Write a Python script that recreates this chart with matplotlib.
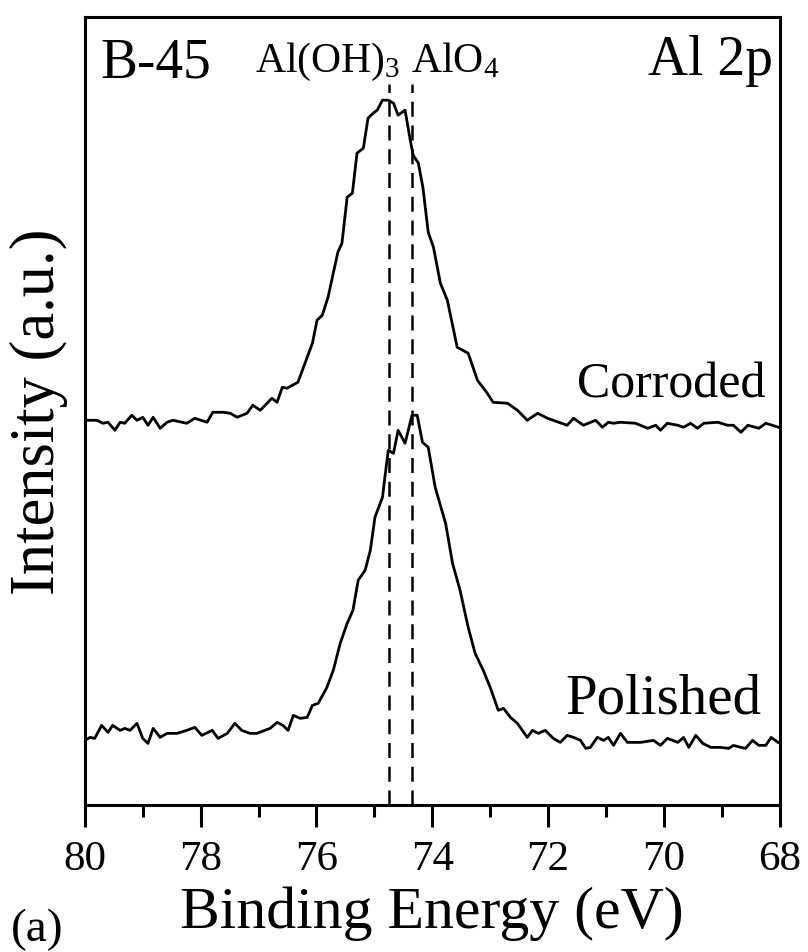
# Al 2p XPS spectra of B-45, corroded vs polished

import numpy as np
import matplotlib
matplotlib.use("Agg")
import matplotlib.pyplot as plt

plt.rcParams['font.family'] = ['Liberation Serif', 'DejaVu Serif']
plt.rcParams['mathtext.fontset'] = 'custom'
plt.rcParams['mathtext.rm'] = 'Liberation Serif'
plt.rcParams['mathtext.it'] = 'Liberation Serif'

# binding energy (eV) and intensity (a.u.)
corroded_be = [79.97, 79.79, 79.69, 79.60, 79.48, 79.39, 79.31, 79.19, 79.10, 79.00,
               78.91, 78.82, 78.70, 78.58, 78.48, 78.24, 78.10, 77.89, 77.79, 77.61,
               77.49, 77.37, 77.20, 77.10, 76.97, 76.77, 76.68, 76.59, 76.51, 76.32,
               76.16, 76.07, 75.99, 75.90, 75.80, 75.71, 75.63, 75.56, 75.47, 75.38,
               75.30, 75.19, 75.11, 75.02, 74.95, 74.86, 74.76, 74.67, 74.59, 74.47,
               74.38, 74.33, 74.24, 74.16, 74.07, 73.98, 73.86, 73.74, 73.57, 73.38,
               73.22, 73.05, 72.95, 72.70, 72.53, 72.36, 72.18, 72.01, 71.67, 71.56,
               71.39, 71.18, 71.06, 70.96, 70.87, 70.75, 70.49, 70.28, 70.14, 70.06,
               69.94, 69.76, 69.66, 69.54, 69.42, 69.31, 69.07, 68.90, 68.80, 68.67,
               68.55, 68.36, 68.24, 68.02]
corroded_int = [385, 385, 382, 383, 375, 383, 382, 390, 385, 388,
                380, 388, 377, 383, 385, 382, 387, 383, 393, 393,
                392, 388, 392, 400, 395, 407, 403, 418, 417, 423,
                448, 462, 485, 490, 508, 532, 553, 562, 608, 612,
                652, 657, 687, 692, 695, 705, 705, 702, 690, 695,
                665, 650, 642, 617, 573, 558, 522, 505, 458, 452,
                425, 412, 403, 402, 395, 385, 392, 387, 380, 387,
                380, 385, 378, 383, 382, 383, 382, 377, 380, 375,
                382, 380, 378, 382, 377, 382, 383, 380, 380, 373,
                380, 377, 382, 378]

polished_be = [80.00, 79.91, 79.83, 79.71, 79.60, 79.52, 79.39, 79.31, 79.22, 79.10,
               79.00, 78.91, 78.82, 78.70, 78.58, 78.41, 78.24, 78.10, 77.98, 77.80,
               77.70, 77.54, 77.41, 77.29, 77.15, 77.03, 76.80, 76.68, 76.58, 76.49,
               76.40, 76.28, 76.16, 76.07, 75.97, 75.82, 75.71, 75.59, 75.47, 75.37,
               75.28, 75.16, 75.07, 74.99, 74.86, 74.81, 74.76, 74.67, 74.59, 74.47,
               74.35, 74.26, 74.17, 74.07, 73.95, 73.77, 73.65, 73.52, 73.38, 73.26,
               73.12, 73.00, 72.86, 72.77, 72.65, 72.53, 72.36, 72.27, 72.17, 72.05,
               71.91, 71.79, 71.67, 71.56, 71.44, 71.35, 71.27, 71.15, 71.04, 70.96,
               70.87, 70.75, 70.63, 70.40, 70.18, 70.06, 69.94, 69.76, 69.66, 69.57,
               69.45, 69.33, 69.19, 69.02, 68.88, 68.80, 68.67, 68.59, 68.47, 68.36,
               68.24, 68.15, 68.03]
polished_int = [65, 68, 67, 80, 73, 80, 75, 77, 75, 82,
                67, 62, 77, 68, 72, 72, 75, 78, 70, 75,
                67, 72, 82, 75, 72, 72, 77, 83, 80, 75,
                90, 87, 88, 100, 102, 118, 135, 162, 182, 195,
                225, 235, 255, 288, 308, 332, 355, 352, 375, 362,
                390, 390, 363, 358, 318, 282, 242, 215, 178, 152,
                135, 118, 95, 97, 88, 82, 68, 75, 72, 75,
                67, 63, 70, 68, 65, 57, 58, 68, 65, 68,
                60, 72, 63, 63, 65, 60, 67, 63, 68, 58,
                70, 62, 58, 58, 57, 60, 58, 57, 65, 60,
                60, 68, 63]

ref_lines = [74.75, 74.35]
ref_labels = [r'Al(OH)$_3$', r'AlO$_4$']

fig = plt.figure(figsize=(8.08, 9.52), dpi=100)
ax = fig.add_axes([0.105, 0.154, 0.86, 0.828])

ax.plot(corroded_be, corroded_int, color='black', lw=2.0)
ax.plot(polished_be, polished_int, color='black', lw=2.0)

for e in ref_lines:
    ax.axvline(e, ymin=0, ymax=0.915, color='black', lw=1.8, ls=(0, (6, 3.5)))

ax.set_xlim(80, 68)
ax.set_ylim(0, 788)
ax.set_xticks([80, 78, 76, 74, 72, 70, 68])
ax.set_xticks([79, 77, 75, 73, 71, 69], minor=True)
ax.set_yticks([])
ax.tick_params(axis='x', which='major', direction='out', length=16, width=2.2,
               labelsize=31, pad=9)
ax.tick_params(axis='x', which='minor', direction='out', length=8.5, width=2.2)
for s in ax.spines.values():
    s.set_linewidth(2.2)

ax.set_xlabel('Binding Energy (eV)', fontsize=43, labelpad=6)
ax.set_ylabel('Intensity (a.u.)', fontsize=45, labelpad=12)

ax.text(0.022, 0.924, 'B-45', transform=ax.transAxes, fontsize=40, va='baseline')
ax.text(0.99, 0.926, 'Al 2p', transform=ax.transAxes, fontsize=40, va='baseline', ha='right')
ax.text(0.245, 0.930, ref_labels[0], transform=ax.transAxes, fontsize=30, va='baseline')
ax.text(0.470, 0.930, ref_labels[1], transform=ax.transAxes, fontsize=30, va='baseline')
ax.text(0.98, 0.518, 'Corroded', transform=ax.transAxes, fontsize=36, va='baseline', ha='right')
ax.text(0.974, 0.117, 'Polished', transform=ax.transAxes, fontsize=41, va='baseline', ha='right')
fig.text(0.014, 0.012, '(a)', fontsize=34, va='baseline')

fig.savefig('out.png', dpi=100)
